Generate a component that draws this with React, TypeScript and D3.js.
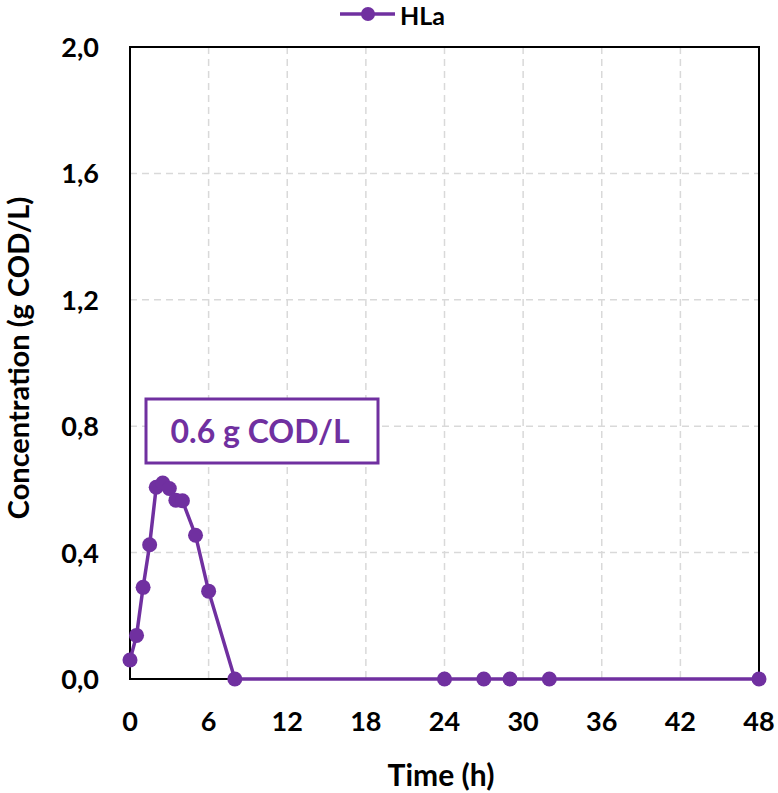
import React from "react";
import * as d3 from "d3";

const times = [0, 0.5, 1, 1.5, 2, 2.5, 3, 3.5, 4, 5, 6, 8, 24, 27, 29, 32, 48];
const hla = [0.06, 0.138, 0.29, 0.425, 0.607, 0.62, 0.603, 0.566, 0.564, 0.455, 0.278, 0, 0, 0, 0, 0, 0];
const xTicks = [0, 6, 12, 18, 24, 30, 36, 42, 48];
const yTicks = [0, 0.4, 0.8, 1.2, 1.6, 2.0];
const seriesName = "HLa";
const annotation = "0.6 g COD/L";

const W = 778, H = 793;
const left = 130, right = 759, top = 47, bottom = 679;
const purple = "#7030A0";
const font = "Lato, 'Open Sans', sans-serif";

export default function App() {
  const x = d3.scaleLinear().domain([0, 48]).range([left, right]);
  const y = d3.scaleLinear().domain([0, 2]).range([bottom, top]);
  const line = d3.line<number>().x((_, i) => x(times[i])).y((d) => y(d));
  const fmt = (v: number) => v.toFixed(1).replace(".", ",");
  return (
    <svg width={W} height={H} style={{ position: "absolute", left: 0, top: 0 }} fontFamily={font}>
      <rect width={W} height={H} fill="white" />
      {xTicks.slice(1, -1).map((t) => (
        <line key={"gx" + t} x1={x(t)} x2={x(t)} y1={top} y2={bottom} stroke="#d9d9d9" strokeWidth={1.5} strokeDasharray="7,5" />
      ))}
      {yTicks.slice(1, -1).map((t) => (
        <line key={"gy" + t} x1={left} x2={right} y1={y(t)} y2={y(t)} stroke="#d9d9d9" strokeWidth={1.5} strokeDasharray="7,5" />
      ))}
      <rect x={left} y={top} width={right - left} height={bottom - top} fill="none" stroke="black" strokeWidth={2} />
      {xTicks.map((t) => (
        <text key={"tx" + t} x={x(t)} y={731} textAnchor="middle" fontSize={27} fontWeight="bold" fill="black">{t}</text>
      ))}
      {yTicks.map((t) => (
        <text key={"ty" + t} x={99} y={y(t) + 10} textAnchor="end" fontSize={27} fontWeight="bold" fill="black">{fmt(t)}</text>
      ))}
      <text x={441} y={786} textAnchor="middle" fontSize={30} fontWeight="bold" fill="black">Time (h)</text>
      <text transform={`translate(29,358) rotate(-90)`} textAnchor="middle" fontSize={29} fontWeight="bold" fill="black">Concentration (g COD/L)</text>
      <path d={line(hla) || ""} fill="none" stroke={purple} strokeWidth={3.5} />
      {hla.map((v, i) => (
        <circle key={"p" + i} cx={x(times[i])} cy={y(v)} r={7.5} fill={purple} />
      ))}
      <rect x={146} y={399} width={232} height={64} fill="white" stroke={purple} strokeWidth={3} />
      <text x={260} y={443} textAnchor="middle" fontSize={32} fontWeight="bold" fill={purple}>{annotation}</text>
      <line x1={340} x2={395} y1={14} y2={14} stroke={purple} strokeWidth={3.5} />
      <circle cx={368} cy={14} r={7} fill={purple} />
      <text x={400} y={25} fontSize={25} fontWeight="bold" fill="black">{seriesName}</text>
    </svg>
  );
}
